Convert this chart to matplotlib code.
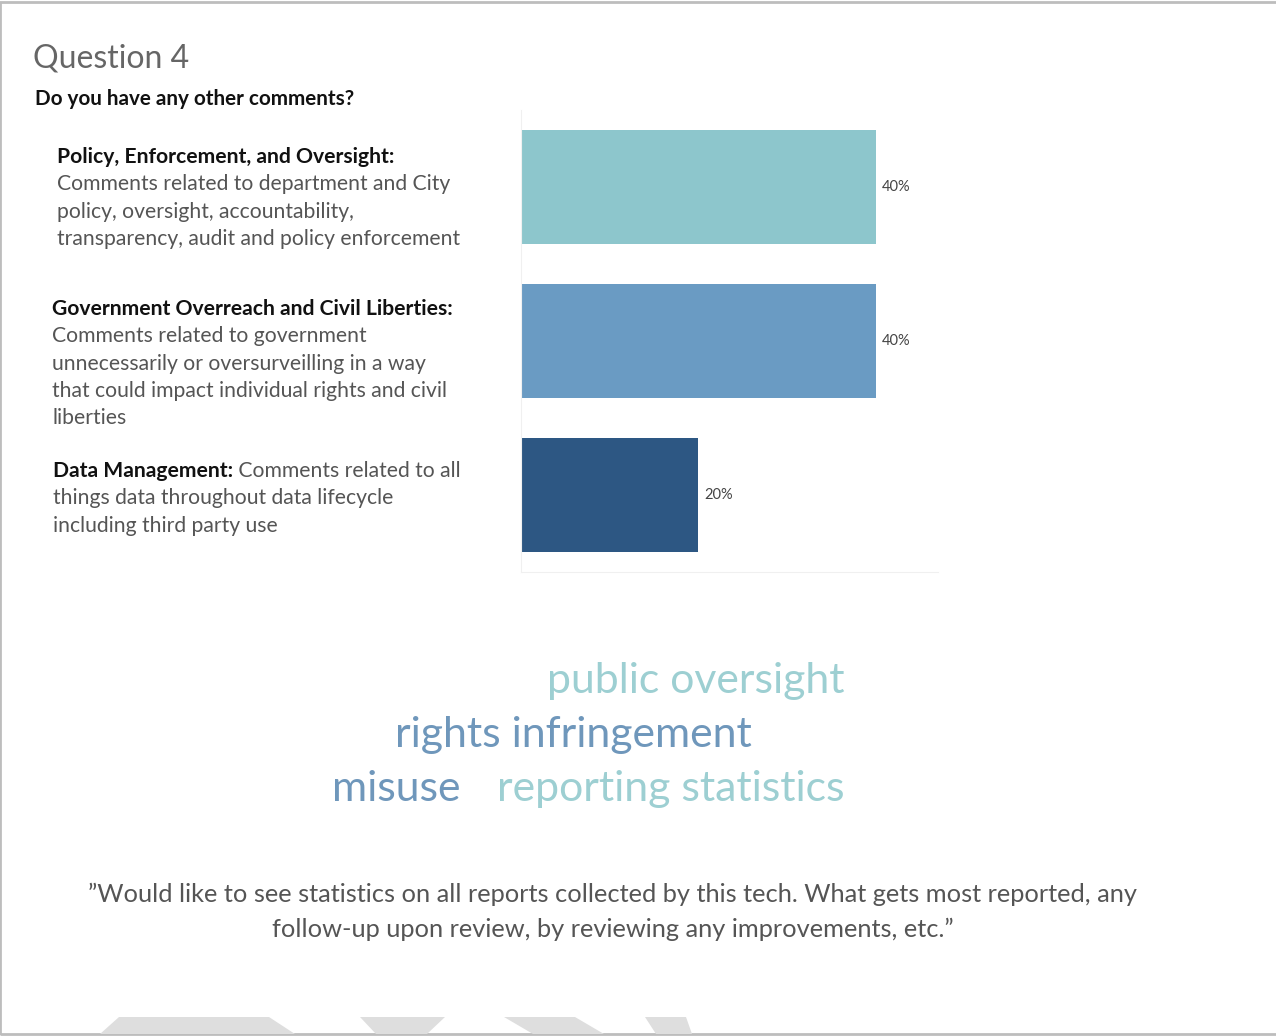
import matplotlib.pyplot as plt
from matplotlib.patches import Rectangle, Polygon

plt.rcParams['font.family'] = ['Lato', 'DejaVu Sans']

categories = ["Policy, Enforcement, and Oversight",
              "Government Overreach and Civil Liberties",
              "Data Management"]
shares = [40, 40, 20]
bar_colors = ["#8dc6cc", "#6a9bc3", "#2d5783"]

headings = ["Policy, Enforcement, and Oversight:",
            "Government Overreach and Civil Liberties:",
            "Data Management:"]
descriptions = [
    ["Comments related to department and City",
     "policy, oversight, accountability,",
     "transparency, audit and policy enforcement"],
    ["Comments related to government",
     "unnecessarily or oversurveilling in a way",
     "that could impact individual rights and civil",
     "liberties"],
    ["Comments related to all",
     "things data throughout data lifecycle",
     "including third party use"],
]

words = ["public oversight", "rights infringement", "misuse", "reporting statistics"]
word_colors = ["#9dcfd2", "#6f97bb", "#6f97bb", "#9dcfd2"]

quote = ("\u201dWould like to see statistics on all reports collected by this tech. What gets most reported, any\n"
         "follow-up upon review, by reviewing any improvements, etc.\u201d")

W, H = 1276, 1036
fig = plt.figure(figsize=(W / 100, H / 100), dpi=100)


def fx(px):
    return px / W


def fy(py):
    return 1 - py / H


# frame
fig.add_artist(Rectangle((fx(0), fy(1034)), fx(1290), fy(2) - fy(1034),
                         transform=fig.transFigure, fill=False, edgecolor="#bdbdbd", lw=2))

# titles
fig.text(fx(33), fy(58), "Question 4", fontsize=23, color="#666666",
         va="center")
fig.text(fx(35), fy(99), "Do you have any other comments?", fontsize=14.9,
         fontweight="bold", color="#111111", va="center")

# bar chart
ax = fig.add_axes([fx(521), fy(572), fx(938 - 521), fy(110) - fy(572)])
ypos = list(range(len(categories)))
bars = ax.barh(ypos, shares, height=0.74, color=bar_colors)
ax.set_xlim(0, 47)
ax.set_ylim(2.5, -0.5)
ax.set_xticks([])
ax.set_yticks([])
for s in ["top", "right"]:
    ax.spines[s].set_visible(False)
for s in ["left", "bottom"]:
    ax.spines[s].set_color("#f0f0f0")
for b, v in zip(bars, shares):
    ax.annotate(f"{v}%", (b.get_width(), b.get_y() + b.get_height() / 2),
                xytext=(4, 0), textcoords="offset points", va="center",
                fontsize=10.5, color="#444444")

# category labels
fs = 15.2
pitch = 27.3
label_x = [57, 52, 53]
label_y = [157, 309, 471]
for i in range(3):
    x0, y0 = label_x[i], label_y[i]
    h = fig.text(fx(x0), fy(y0), headings[i], fontsize=fs, fontweight="bold",
                 color="#111111", va="center")
    lines = descriptions[i]
    if i == 2:
        # description starts on the heading line
        ax.annotate(" " + lines[0], xy=(1, 0.5), xycoords=h, va="center",
                    ha="left", fontsize=fs, color="#555555", annotation_clip=False)
        rest = lines[1:]
    else:
        rest = lines
    for k, ln in enumerate(rest):
        fig.text(fx(x0), fy(y0 + pitch * (k + 1)), ln, fontsize=fs,
                 color="#555555", va="center")

# word cloud
word_pos = [(547, 681), (395, 735), (332, 789), (497, 789)]
for w, c, (px, py) in zip(words, word_colors, word_pos):
    fig.text(fx(px), fy(py), w, fontsize=30.8, color=c, va="center", ha="left")

# quote
fig.text(fx(613), fy(912), quote, fontsize=18.3, color="#555555", ha="center",
         va="center", linespacing=1.6)

# faint shapes at bottom edge
shapes = [
    [(119, 1017), (269, 1017), (295, 1034), (100, 1034)],
    [(360, 1017), (445, 1017), (427, 1034), (376, 1034)],
    [(504, 1017), (575, 1017), (604, 1034), (533, 1034)],
    [(645, 1017), (686, 1017), (692, 1034), (656, 1034)],
]
for pts in shapes:
    fig.add_artist(Polygon([(fx(x), fy(y)) for x, y in pts], closed=True,
                           transform=fig.transFigure, facecolor="#dedede",
                           edgecolor="none"))

fig.savefig("out.png", dpi=100)
